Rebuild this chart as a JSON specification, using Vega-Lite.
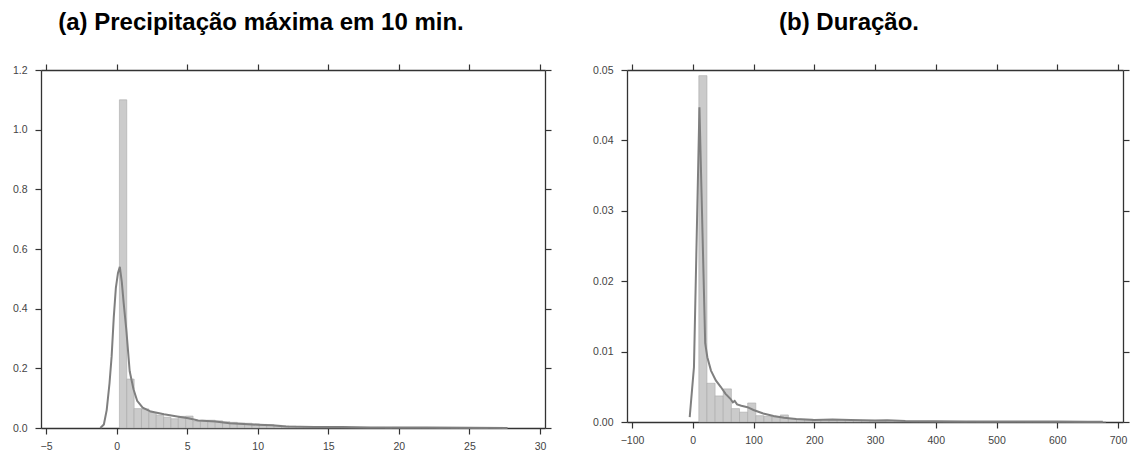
{
  "$schema": "https://vega.github.io/schema/vega-lite/v6.json",
  "padding": {"left": 12, "top": 11, "right": 0, "bottom": 0},
  "background": "white",
  "spacing": 40,
  "config": {
    "view": {"stroke": null},
    "axis": {"grid": false, "labelFont": "Liberation Sans", "labelFontSize": 10.5, "labelColor": "#444444", "tickColor": "#333333", "domainColor": "#333333", "tickSize": 6, "tickWidth": 1.2, "domainWidth": 1.3, "title": null},
    "title": {"font": "Liberation Sans", "fontSize": 24, "fontWeight": "bold", "color": "#000000", "anchor": "middle", "offset": 28}
  },
  "datasets": {
    "leftHist": [
      {"x0": 0.2, "x1": 0.722, "d": 1.10},
      {"x0": 0.722, "x1": 1.244, "d": 0.164},
      {"x0": 1.244, "x1": 1.766, "d": 0.065},
      {"x0": 1.766, "x1": 2.288, "d": 0.064},
      {"x0": 2.288, "x1": 2.81, "d": 0.052},
      {"x0": 2.81, "x1": 3.332, "d": 0.043},
      {"x0": 3.332, "x1": 3.854, "d": 0.036},
      {"x0": 3.854, "x1": 4.376, "d": 0.031},
      {"x0": 4.376, "x1": 4.898, "d": 0.039},
      {"x0": 4.898, "x1": 5.42, "d": 0.040},
      {"x0": 5.42, "x1": 5.942, "d": 0.022},
      {"x0": 5.942, "x1": 6.464, "d": 0.026},
      {"x0": 6.464, "x1": 6.986, "d": 0.026},
      {"x0": 6.986, "x1": 7.508, "d": 0.024},
      {"x0": 7.508, "x1": 8.03, "d": 0.021},
      {"x0": 8.03, "x1": 8.552, "d": 0.019},
      {"x0": 8.552, "x1": 9.074, "d": 0.017},
      {"x0": 9.074, "x1": 9.596, "d": 0.016},
      {"x0": 9.596, "x1": 10.118, "d": 0.014},
      {"x0": 10.118, "x1": 10.64, "d": 0.012},
      {"x0": 10.64, "x1": 11.162, "d": 0.011},
      {"x0": 11.162, "x1": 11.684, "d": 0.009},
      {"x0": 11.684, "x1": 12.206, "d": 0.007},
      {"x0": 12.206, "x1": 12.728, "d": 0.006},
      {"x0": 12.728, "x1": 13.25, "d": 0.005},
      {"x0": 13.25, "x1": 13.772, "d": 0.004},
      {"x0": 13.772, "x1": 14.294, "d": 0.004},
      {"x0": 14.294, "x1": 14.816, "d": 0.003},
      {"x0": 14.816, "x1": 15.338, "d": 0.003},
      {"x0": 15.338, "x1": 15.86, "d": 0.003},
      {"x0": 15.86, "x1": 16.382, "d": 0.003},
      {"x0": 16.382, "x1": 16.904, "d": 0.002},
      {"x0": 16.904, "x1": 17.426, "d": 0.002},
      {"x0": 17.426, "x1": 17.948, "d": 0.002},
      {"x0": 17.948, "x1": 18.47, "d": 0.002},
      {"x0": 18.47, "x1": 18.992, "d": 0.002},
      {"x0": 18.992, "x1": 19.514, "d": 0.001},
      {"x0": 19.514, "x1": 20.036, "d": 0.002},
      {"x0": 20.036, "x1": 20.558, "d": 0.001},
      {"x0": 20.558, "x1": 21.08, "d": 0.001},
      {"x0": 21.08, "x1": 21.602, "d": 0.001},
      {"x0": 21.602, "x1": 22.124, "d": 0.001},
      {"x0": 22.124, "x1": 22.646, "d": 0.001},
      {"x0": 22.646, "x1": 23.168, "d": 0.0005},
      {"x0": 23.168, "x1": 23.69, "d": 0.001},
      {"x0": 23.69, "x1": 24.212, "d": 0.0005},
      {"x0": 24.212, "x1": 24.734, "d": 0.0005},
      {"x0": 24.734, "x1": 25.256, "d": 0.0005},
      {"x0": 25.256, "x1": 25.778, "d": 0.0003},
      {"x0": 25.778, "x1": 26.3, "d": 0.0005}
    ],
    "leftKde": [
      {"x": -1.15, "d": 0.0},
      {"x": -0.9, "d": 0.012},
      {"x": -0.7, "d": 0.06},
      {"x": -0.5, "d": 0.15},
      {"x": -0.35, "d": 0.24},
      {"x": -0.2, "d": 0.37},
      {"x": -0.05, "d": 0.47},
      {"x": 0.1, "d": 0.52},
      {"x": 0.23, "d": 0.54},
      {"x": 0.37, "d": 0.49},
      {"x": 0.5, "d": 0.42},
      {"x": 0.69, "d": 0.33},
      {"x": 0.93, "d": 0.19},
      {"x": 1.2, "d": 0.13},
      {"x": 1.46, "d": 0.091},
      {"x": 1.85, "d": 0.068},
      {"x": 2.43, "d": 0.055},
      {"x": 3.36, "d": 0.046},
      {"x": 4.4, "d": 0.038},
      {"x": 5.09, "d": 0.033},
      {"x": 5.78, "d": 0.025},
      {"x": 7.0, "d": 0.022},
      {"x": 8.0, "d": 0.016},
      {"x": 9.0, "d": 0.013},
      {"x": 10.0, "d": 0.011},
      {"x": 11.0, "d": 0.009},
      {"x": 12.0, "d": 0.005},
      {"x": 13.0, "d": 0.004},
      {"x": 14.0, "d": 0.003},
      {"x": 16.0, "d": 0.003},
      {"x": 18.0, "d": 0.002},
      {"x": 20.0, "d": 0.002},
      {"x": 22.0, "d": 0.0015},
      {"x": 25.0, "d": 0.001},
      {"x": 27.7, "d": 0.0}
    ],
    "rightHist": [
      {"x0": 10, "x1": 23.4, "d": 0.0492},
      {"x0": 23.4, "x1": 36.8, "d": 0.0055},
      {"x0": 36.8, "x1": 50.2, "d": 0.0037},
      {"x0": 50.2, "x1": 63.6, "d": 0.0047},
      {"x0": 63.6, "x1": 77, "d": 0.0019},
      {"x0": 77, "x1": 90.4, "d": 0.0014},
      {"x0": 90.4, "x1": 103.8, "d": 0.0027},
      {"x0": 103.8, "x1": 117.2, "d": 0.0009},
      {"x0": 117.2, "x1": 130.6, "d": 0.0008},
      {"x0": 130.6, "x1": 144, "d": 0.0007},
      {"x0": 144, "x1": 157.4, "d": 0.001},
      {"x0": 157.4, "x1": 170.8, "d": 0.0005},
      {"x0": 170.8, "x1": 184.2, "d": 0.0004},
      {"x0": 184.2, "x1": 197.6, "d": 0.0004},
      {"x0": 197.6, "x1": 211, "d": 0.0003},
      {"x0": 211, "x1": 224.4, "d": 0.0002},
      {"x0": 224.4, "x1": 237.8, "d": 0.0003},
      {"x0": 237.8, "x1": 251.2, "d": 0.0003},
      {"x0": 251.2, "x1": 264.6, "d": 0.0002},
      {"x0": 264.6, "x1": 278, "d": 0.0002},
      {"x0": 278, "x1": 291.4, "d": 0.0002},
      {"x0": 291.4, "x1": 304.8, "d": 0.0001},
      {"x0": 304.8, "x1": 318.2, "d": 0.0001},
      {"x0": 318.2, "x1": 331.6, "d": 0.0002},
      {"x0": 331.6, "x1": 345, "d": 0.0001},
      {"x0": 345, "x1": 358.4, "d": 0.0001},
      {"x0": 358.4, "x1": 371.8, "d": 0.00008},
      {"x0": 371.8, "x1": 385.2, "d": 0.00008},
      {"x0": 385.2, "x1": 398.6, "d": 0.0001},
      {"x0": 398.6, "x1": 412, "d": 0.00008},
      {"x0": 412, "x1": 425.4, "d": 0.00006},
      {"x0": 425.4, "x1": 438.8, "d": 0.00006},
      {"x0": 438.8, "x1": 452.2, "d": 0.00006},
      {"x0": 452.2, "x1": 465.6, "d": 0.00008},
      {"x0": 465.6, "x1": 479, "d": 0.00006},
      {"x0": 479, "x1": 492.4, "d": 0.00006},
      {"x0": 492.4, "x1": 505.8, "d": 0.00006},
      {"x0": 505.8, "x1": 519.2, "d": 0.00006},
      {"x0": 519.2, "x1": 532.6, "d": 0.00006},
      {"x0": 532.6, "x1": 546, "d": 0.00006},
      {"x0": 546, "x1": 559.4, "d": 0.00005},
      {"x0": 559.4, "x1": 572.8, "d": 0.00005},
      {"x0": 572.8, "x1": 586.2, "d": 0.00005},
      {"x0": 586.2, "x1": 599.6, "d": 0.00004},
      {"x0": 599.6, "x1": 613, "d": 0.00004},
      {"x0": 613, "x1": 626.4, "d": 0.00004},
      {"x0": 626.4, "x1": 639.8, "d": 0.00003},
      {"x0": 639.8, "x1": 653.2, "d": 0.00003},
      {"x0": 653.2, "x1": 666.6, "d": 0.00003},
      {"x0": 666.6, "x1": 680, "d": 0.00003}
    ],
    "rightKde": [
      {"x": -5, "d": 0.0007},
      {"x": 2, "d": 0.0078},
      {"x": 11, "d": 0.0447},
      {"x": 20.5, "d": 0.0112},
      {"x": 24, "d": 0.0092},
      {"x": 30, "d": 0.0073},
      {"x": 38, "d": 0.0059},
      {"x": 46, "d": 0.005},
      {"x": 54, "d": 0.004},
      {"x": 62, "d": 0.0033},
      {"x": 66, "d": 0.0028},
      {"x": 69, "d": 0.003},
      {"x": 73, "d": 0.0025},
      {"x": 80, "d": 0.0023},
      {"x": 90, "d": 0.0021},
      {"x": 100, "d": 0.0017},
      {"x": 116, "d": 0.0012},
      {"x": 133, "d": 0.00085},
      {"x": 150, "d": 0.0006},
      {"x": 170, "d": 0.00043},
      {"x": 200, "d": 0.0003},
      {"x": 230, "d": 0.00035},
      {"x": 260, "d": 0.0003},
      {"x": 300, "d": 0.00022},
      {"x": 320, "d": 0.00025},
      {"x": 350, "d": 0.00015},
      {"x": 400, "d": 0.0001},
      {"x": 450, "d": 0.00008},
      {"x": 500, "d": 0.00008},
      {"x": 550, "d": 0.00008},
      {"x": 600, "d": 0.00006},
      {"x": 650, "d": 0.00004},
      {"x": 675, "d": 0.00002}
    ]
  },
  "hconcat": [
    {
      "width": 504,
      "height": 358,
      "title": {"text": "(a) Precipitação máxima em 10 min.", "dx": -32},
      "layer": [
        {
          "data": {"name": "leftHist"},
          "mark": {"type": "bar", "orient": "vertical", "fill": "#cbcbcb", "stroke": "#a9a9a9", "strokeWidth": 0.6},
          "encoding": {
            "x": {"field": "x0", "type": "quantitative", "scale": {"domain": [-5, 30], "nice": false, "zero": false}, "axis": {"orient": "bottom", "values": [-5, 0, 5, 10, 15, 20, 25, 30], "format": "d", "labelPadding": 7}},
            "x2": {"field": "x1"},
            "y": {"field": "d", "type": "quantitative", "scale": {"domain": [0, 1.2], "nice": false}, "axis": {"orient": "left", "values": [0, 0.2, 0.4, 0.6, 0.8, 1.0, 1.2], "format": ".1f", "labelPadding": 8}},
            "y2": {"datum": 0}
          }
        },
        {
          "data": {"name": "leftKde"},
          "mark": {"type": "line", "color": "#7f7f7f", "strokeWidth": 2},
          "encoding": {
            "x": {"field": "x", "type": "quantitative", "axis": {"orient": "top", "values": [-5, 0, 5, 10, 15, 20, 25, 30], "labels": false}},
            "y": {"field": "d", "type": "quantitative", "axis": {"orient": "right", "values": [0, 0.2, 0.4, 0.6, 0.8, 1.0, 1.2], "labels": false}}
          }
        }
      ],
      "resolve": {"axis": {"x": "independent", "y": "independent"}}
    },
    {
      "width": 496,
      "height": 352,
      "title": {"text": "(b) Duração.", "dx": -26},
      "layer": [
        {
          "data": {"name": "rightHist"},
          "mark": {"type": "bar", "orient": "vertical", "fill": "#cbcbcb", "stroke": "#a9a9a9", "strokeWidth": 0.6},
          "encoding": {
            "x": {"field": "x0", "type": "quantitative", "scale": {"domain": [-100, 700], "nice": false, "zero": false}, "axis": {"orient": "bottom", "values": [-100, 0, 100, 200, 300, 400, 500, 600, 700], "format": "d", "labelPadding": 7}},
            "x2": {"field": "x1"},
            "y": {"field": "d", "type": "quantitative", "scale": {"domain": [0, 0.05], "nice": false}, "axis": {"orient": "left", "values": [0, 0.01, 0.02, 0.03, 0.04, 0.05], "format": ".2f", "labelPadding": 8}},
            "y2": {"datum": 0}
          }
        },
        {
          "data": {"name": "rightKde"},
          "mark": {"type": "line", "color": "#7f7f7f", "strokeWidth": 2},
          "encoding": {
            "x": {"field": "x", "type": "quantitative", "axis": {"orient": "top", "values": [-100, 0, 100, 200, 300, 400, 500, 600, 700], "labels": false}},
            "y": {"field": "d", "type": "quantitative", "axis": {"orient": "right", "values": [0, 0.01, 0.02, 0.03, 0.04, 0.05], "labels": false}}
          }
        }
      ],
      "resolve": {"axis": {"x": "independent", "y": "independent"}}
    }
  ]
}
